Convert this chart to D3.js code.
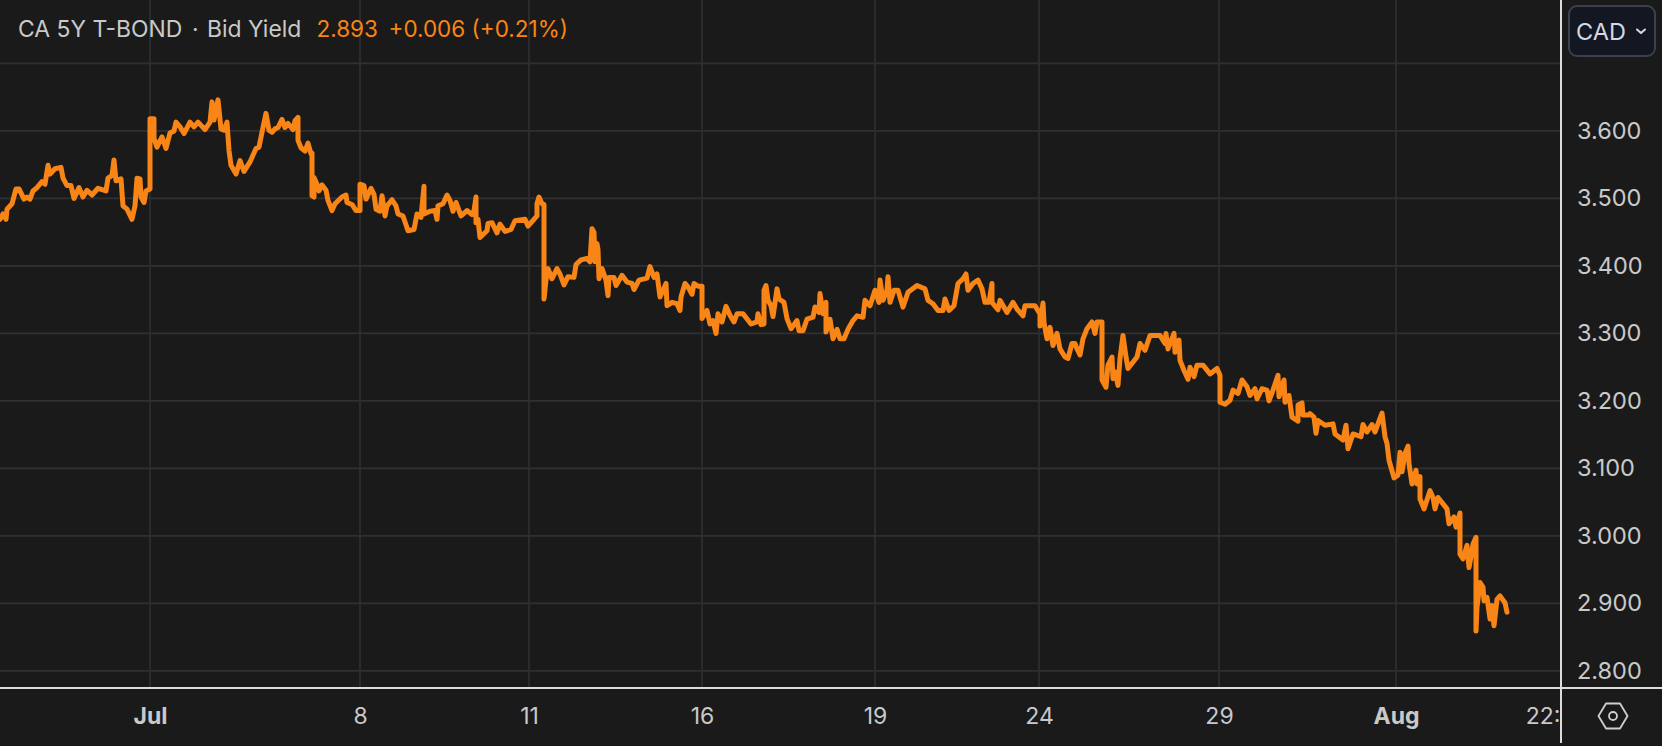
<!DOCTYPE html>
<html><head><meta charset="utf-8">
<script src="https://cdn.jsdelivr.net/npm/d3@7"></script>
<style>
html,body{margin:0;padding:0;background:#1a1a1a;overflow:hidden}
text{font-family:Inter,"Liberation Sans",sans-serif}
</style></head><body><svg id="c" width="1662" height="746"></svg>
<script>
const bars=[0,3,6,7,12,16,19,24,27,30,33,37,42,45,48,50,55,61,63,67,71,74,79,83,87,92,98,106,108,112,114,116,121,123,127,132,135,137,140,141,144,146,150,150,154,154,157,162,166,170,174,176,180,184,190,194,198,205,210,212,214,218,221,224,227,229,231,236,240,244,250,256,259,262,266,269,
272,275,278,282,285,288,293,295,298,298,301,305,308,311,312,312,314,314,317,319,322,326,328,332,335,342,346,347,352,356,360,360,364,366,371,374,376,380,382,385,387,392,396,398,403,408,414,417,421,424,424,430,435,437,438,443,447,450,453,456,461,467,472,474,476,476,478,480,487,488,492,497,500,505,511,515,525,528,537,537,
539,542,544,544,546,548,552,557,560,564,568,574,576,581,587,590,592,594,595,597,598,599,602,606,608,609,614,616,622,627,632,634,639,647,650,654,657,660,666,667,672,677,680,681,685,688,692,694,698,702,702,707,710,713,716,718,722,726,730,734,737,743,751,757,758,761,764,764,766,768,771,773,777,779,784,787,791,797,799,
803,807,813,815,819,820,823,826,826,830,833,837,840,844,848,853,857,863,865,870,875,879,880,883,887,888,890,894,898,903,908,917,925,928,933,938,943,945,949,954,958,963,966,968,973,978,982,985,989,992,992,998,1000,1007,1013,1017,1023,1025,1035,1040,1040,1043,1044,
1047,1050,1053,1057,1060,1065,1068,1072,1075,1077,1080,1083,1087,1092,1095,1097,1102,1102,1106,1108,1112,1113,1115,1118,1120,1123,1126,1128,1137,1140,1145,1150,1160,1165,1166,1168,1174,1175,1179,1180,1184,1188,1190,1194,1197,1203,1210,1217,1220,1220,1225,1230,1233,1238,1242,1247,1250,1255,1257,1262,1267,1269,1273,1278,1279,1284,1285,1289,1292,1298,1298,1302,1303,1309,
1310,1314,1316,1318,1325,1333,1335,1343,1346,1348,1353,1361,1363,1367,1372,1375,1382,1385,1387,1389,1394,1398,1400,1402,1405,1408,1409,1412,1416,1417,1420,1420,1424,1430,1433,1435,1438,1447,1449,1454,1456,1460,1460,1463,1467,1469,1472,1473,1476,1476,1477,1480,1483,1484,1487,1490,1492,1494,1497,1500,1505,1507];
const yields=[3.469,3.477,3.469,3.484,3.492,3.514,3.514,3.499,3.502,3.499,3.511,3.516,3.525,3.521,3.549,3.536,3.544,3.546,3.530,3.519,3.519,3.500,3.516,3.502,3.512,3.505,3.515,3.511,3.530,3.534,3.557,3.526,3.529,3.489,3.484,3.469,3.489,3.530,3.529,3.502,3.494,3.511,3.514,3.618,3.618,3.589,3.576,3.591,3.574,3.597,3.600,3.613,3.606,3.596,3.613,3.606,3.613,3.602,3.613,3.643,3.616,3.646,3.603,3.601,3.613,3.571,3.549,3.536,3.556,3.540,3.554,3.574,3.576,3.598,3.626,3.601,
3.598,3.603,3.605,3.617,3.605,3.611,3.602,3.615,3.620,3.586,3.575,3.570,3.582,3.566,3.567,3.504,3.502,3.531,3.521,3.511,3.520,3.512,3.497,3.482,3.492,3.502,3.505,3.494,3.491,3.482,3.482,3.521,3.519,3.499,3.515,3.506,3.484,3.481,3.504,3.474,3.489,3.498,3.489,3.477,3.474,3.452,3.454,3.477,3.472,3.518,3.477,3.481,3.482,3.469,3.489,3.492,3.505,3.497,3.481,3.494,3.474,3.482,3.476,3.482,3.502,3.464,3.469,3.442,3.452,3.463,3.464,3.449,3.462,3.451,3.454,3.467,3.469,3.459,3.474,3.492,
3.502,3.492,3.491,3.351,3.379,3.396,3.381,3.396,3.388,3.372,3.384,3.383,3.402,3.409,3.411,3.406,3.455,3.450,3.406,3.433,3.424,3.381,3.396,3.379,3.356,3.383,3.383,3.371,3.386,3.376,3.374,3.365,3.379,3.382,3.399,3.383,3.388,3.354,3.374,3.341,3.346,3.344,3.334,3.354,3.374,3.369,3.358,3.374,3.370,3.370,3.322,3.334,3.314,3.319,3.300,3.329,3.317,3.340,3.327,3.317,3.329,3.329,3.314,3.317,3.329,3.313,3.314,3.364,3.371,3.349,3.341,3.325,3.366,3.351,3.346,3.322,3.307,3.319,3.304,
3.304,3.321,3.324,3.339,3.331,3.359,3.329,3.346,3.302,3.321,3.292,3.306,3.292,3.292,3.306,3.319,3.326,3.324,3.349,3.341,3.364,3.346,3.379,3.349,3.364,3.384,3.346,3.364,3.364,3.339,3.361,3.371,3.366,3.349,3.344,3.334,3.334,3.351,3.334,3.341,3.374,3.381,3.388,3.364,3.374,3.379,3.366,3.346,3.346,3.374,3.346,3.335,3.349,3.331,3.346,3.336,3.326,3.341,3.341,3.329,3.311,3.345,3.316,
3.292,3.309,3.282,3.300,3.277,3.265,3.263,3.285,3.285,3.277,3.268,3.292,3.307,3.317,3.300,3.317,3.317,3.231,3.220,3.253,3.265,3.233,3.243,3.223,3.263,3.297,3.265,3.248,3.265,3.285,3.275,3.297,3.297,3.285,3.300,3.277,3.300,3.272,3.290,3.260,3.245,3.232,3.250,3.236,3.253,3.253,3.240,3.248,3.238,3.198,3.195,3.201,3.216,3.211,3.231,3.221,3.208,3.218,3.203,3.218,3.216,3.200,3.216,3.238,3.206,3.231,3.198,3.208,3.176,3.170,3.194,3.197,3.179,3.179,
3.181,3.176,3.152,3.171,3.164,3.166,3.151,3.142,3.164,3.129,3.151,3.147,3.165,3.154,3.165,3.154,3.182,3.147,3.137,3.112,3.086,3.090,3.124,3.095,3.122,3.133,3.107,3.077,3.097,3.077,3.088,3.055,3.040,3.067,3.057,3.040,3.057,3.040,3.018,3.028,3.013,3.034,2.973,2.966,2.986,2.953,2.978,2.988,2.998,2.859,2.894,2.931,2.924,2.904,2.909,2.877,2.897,2.867,2.906,2.911,2.901,2.887];
const yTicks=[2.8,2.9,3.0,3.1,3.2,3.3,3.4,3.5,3.6,3.7];
const xTickBars=[150,360,529,702,875,1039,1219,1396,1557];
const xTickLabels=["Jul","8","11","16","19","24","29","Aug","22:00"];
const xGridBars=[150,360,529,702,875,1039,1219,1396];

const W=1662,H=746,axisX=1561,axisY=688;
const svg=d3.select("#c");
const x=d3.scaleLinear().domain([0,axisX]).range([0,axisX]);
const y=d3.scaleLinear().domain([2.8,3.6]).range([670.9,130.9]);

svg.append("defs").append("clipPath").attr("id","clipX").append("rect").attr("x",0).attr("y",0).attr("width",axisX).attr("height",H);
svg.append("rect").attr("width",W).attr("height",H).attr("fill","#1a1a1a");

const grid=svg.append("g").attr("stroke","#303030").attr("stroke-width",1.6);
grid.selectAll(".h").data(yTicks).join("line").attr("x1",0).attr("x2",axisX).attr("y1",d=>y(d)).attr("y2",d=>y(d));
grid.selectAll(".v").data(xGridBars).join("line").attr("x1",d=>x(d)).attr("x2",d=>x(d)).attr("y1",0).attr("y2",axisY);

const line=d3.line().x((d,i)=>x(bars[i])).y(d=>y(d)).curve(d3.curveLinear);
svg.append("path").datum(yields).attr("d",line).attr("fill","none").attr("stroke","#f98516").attr("stroke-width",5).attr("stroke-linejoin","round").attr("stroke-linecap","round");

// y axis
const yAxis=d3.axisRight(y).tickValues(yTicks.filter(d=>d<3.65)).tickFormat(d3.format(".3f")).tickSize(0).tickPadding(16);
const gy=svg.append("g").attr("transform",`translate(${axisX},0)`).call(yAxis);
gy.select(".domain").remove();
gy.selectAll("text").attr("fill","#c9c9c9").attr("font-size",23.5).attr("font-family","Inter");

// x axis
const xAxis=d3.axisBottom(x).tickValues(xTickBars).tickFormat((d,i)=>xTickLabels[i]).tickSize(0).tickPadding(0);
const gx=svg.append("g").attr("transform",`translate(0,${axisY})`).attr("clip-path","url(#clipX)").call(xAxis);
gx.select(".domain").remove();
gx.selectAll("text").attr("fill","#c9c9c9").attr("font-size",23).attr("font-family","Inter").attr("dy",0).attr("y",36)
  .attr("font-weight",(d,i)=>/[A-Za-z]/.test(xTickLabels[i])&&xTickLabels[i].length===3?700:400);

// frame lines
svg.append("line").attr("x1",0).attr("x2",W).attr("y1",axisY).attr("y2",axisY).attr("stroke","#dcdcdc").attr("stroke-width",2);
svg.append("line").attr("x1",axisX).attr("x2",axisX).attr("y1",0).attr("y2",743).attr("stroke","#dcdcdc").attr("stroke-width",2);

// header
const hdr=svg.append("text").attr("y",37).attr("font-size",22.9);
hdr.append("tspan").attr("x",18).attr("fill","#c9c9c9").text("CA 5Y T-BOND");
hdr.append("tspan").attr("x",192).attr("fill","#c9c9c9").text("·");
hdr.append("tspan").attr("x",207).attr("fill","#c9c9c9").text("Bid Yield");
hdr.append("tspan").attr("x",316.5).attr("fill","#f98516").attr("font-size",22.5).text("2.893");
hdr.append("tspan").attr("x",388.5).attr("fill","#f98516").attr("font-size",22.5).text("+0.006 (+0.21%)");

// currency button
const b=svg.append("g");
b.append("rect").attr("x",1569).attr("y",6).attr("width",86).attr("height",50).attr("rx",8).attr("fill","#131722").attr("stroke","#3d404c").attr("stroke-width",2);
b.append("text").attr("x",1576).attr("y",39.5).attr("font-size",23.5).attr("fill","#d6d8e0").text("CAD");
b.append("path").attr("d","M1637 29.5l4 3.6 4-3.6").attr("fill","none").attr("stroke","#d6d8e0").attr("stroke-width",2).attr("stroke-linecap","round").attr("stroke-linejoin","round");

// settings icon
const ic=svg.append("g").attr("transform","translate(1613,716)").attr("fill","none").attr("stroke","#cfcfcf").attr("stroke-width",1.8);
ic.append("path").attr("d","M-14.5 0L-7 -12.5L7 -12.5L14.5 0L7 12.5L-7 12.5Z").attr("stroke-linejoin","round");
ic.append("circle").attr("r",4);
</script></body></html>
